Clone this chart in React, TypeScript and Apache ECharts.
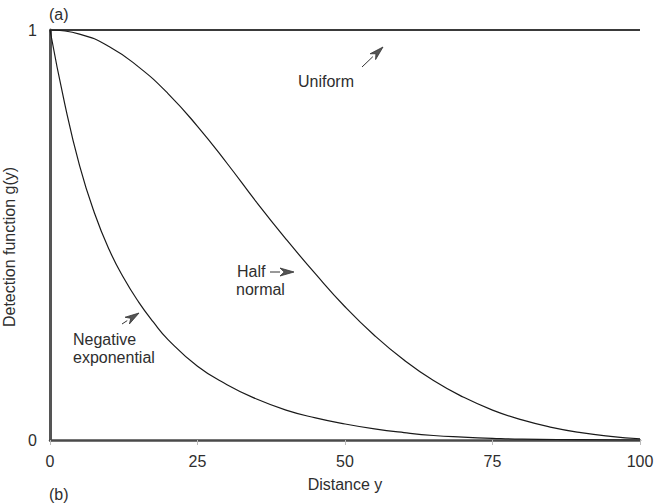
import React, { useEffect, useRef } from "react";
import * as echarts from "echarts";

// Distances (x) and detection-function values
const halfNormalX = [0, 5, 10, 15, 20, 25, 30, 35, 40, 45, 50, 55, 60, 65, 70, 75, 80, 85, 90, 95, 100];
const halfNormalY = [1.0, 0.99, 0.96, 0.91, 0.845, 0.765, 0.675, 0.58, 0.49, 0.405, 0.325, 0.255, 0.195, 0.145, 0.105, 0.073, 0.049, 0.031, 0.018, 0.009, 0.003];

const negExpX = [0, 2.5, 5, 7.5, 10, 12.5, 15, 17.5, 20, 25, 30, 35, 40, 45, 50, 55, 60, 65, 70, 75, 80, 90, 100];
const negExpY = [1.0, 0.82, 0.67, 0.555, 0.465, 0.395, 0.337, 0.288, 0.245, 0.18, 0.135, 0.1, 0.073, 0.054, 0.039, 0.027, 0.018, 0.011, 0.007, 0.004, 0.002, 0.001, 0.0];

const uniformX = [0, 100];
const uniformY = [1, 1];

const xTicks = [0, 25, 50, 75, 100];
const yTicks = [0, 1];

const FONT = "'Liberation Sans', Arial, Helvetica, sans-serif";
const TEXT = "#2e2e2e";

function pairs(xs: number[], ys: number[]) {
  return xs.map((x, i) => [x, ys[i]]);
}

function arrow(x1: number, y1: number, x2: number, y2: number) {
  const dx = x2 - x1;
  const dy = y2 - y1;
  const len = Math.sqrt(dx * dx + dy * dy);
  const ux = dx / len;
  const uy = dy / len;
  const hl = 14;
  const hw = 4;
  const bx = x2 - ux * hl;
  const by = y2 - uy * hl;
  const nx = -uy;
  const ny = ux;
  return [
    {
      type: "line",
      shape: { x1, y1, x2: bx, y2: by },
      style: { stroke: "#333", lineWidth: 1 },
    },
    {
      type: "polygon",
      shape: {
        points: [
          [x2, y2],
          [bx + nx * hw, by + ny * hw],
          [x2 - ux * hl * 0.7, y2 - uy * hl * 0.7],
          [bx - nx * hw, by - ny * hw],
        ],
      },
      style: { fill: "#555", stroke: "#333", lineWidth: 0.8 },
    },
  ];
}

export default function App() {
  const ref = useRef<HTMLDivElement>(null);

  useEffect(() => {
    if (!ref.current) return;
    const chart = echarts.init(ref.current, null, { renderer: "svg" });
    const text = (t: string, x: number, y: number, extra: any = {}) => ({
      type: "text",
      x,
      y,
      style: {
        text: t,
        font: `16px ${FONT}`,
        fill: TEXT,
        textAlign: "left",
        textVerticalAlign: "middle",
        ...extra,
      },
    });
    chart.setOption({
      animation: false,
      backgroundColor: "#ffffff",
      grid: {
        left: 50,
        right: 20,
        top: 30,
        bottom: 64,
        containLabel: false,
        outerBoundsMode: "none",
      },
      xAxis: {
        type: "value",
        min: 0,
        max: 100,
        interval: 25,
        name: "Distance y",
        nameLocation: "middle",
        nameGap: 36,
        nameTextStyle: { fontFamily: FONT, fontSize: 16, color: TEXT },
        axisLine: { show: true, lineStyle: { color: "#4a4a4a", width: 2.5 } },
        axisTick: { show: true, length: 5, lineStyle: { color: "#bbb", width: 1 } },
        axisLabel: {
          fontFamily: FONT,
          fontSize: 16,
          color: TEXT,
          margin: 13,
          formatter: (v: number) => (xTicks.includes(v) ? String(v) : ""),
        },
        splitLine: { show: false },
      },
      yAxis: {
        type: "value",
        min: 0,
        max: 1,
        interval: 1,
        name: "Detection function g(y)",
        nameLocation: "middle",
        nameGap: 32,
        nameRotate: 90,
        nameTextStyle: { fontFamily: FONT, fontSize: 16, color: TEXT, padding: [0, 24, 0, 0] },
        axisLine: { show: true, lineStyle: { color: "#555", width: 3 } },
        axisTick: { show: false },
        axisLabel: {
          fontFamily: FONT,
          fontSize: 16,
          color: TEXT,
          margin: 13,
          formatter: (v: number) => (yTicks.includes(v) ? String(v) : ""),
        },
        splitLine: { show: false },
      },
      series: [
        {
          type: "line",
          name: "Uniform",
          data: pairs(uniformX, uniformY),
          showSymbol: false,
          lineStyle: { color: "#3a3a3a", width: 2 },
          z: 3,
        },
        {
          type: "line",
          name: "Half normal",
          data: pairs(halfNormalX, halfNormalY),
          showSymbol: false,
          smooth: 0.5,
          lineStyle: { color: "#1a1a1a", width: 1.2 },
        },
        {
          type: "line",
          name: "Negative exponential",
          data: pairs(negExpX, negExpY),
          showSymbol: false,
          smooth: 0.5,
          lineStyle: { color: "#1a1a1a", width: 1.2 },
        },
      ],
      graphic: [
        text("(a)", 49, 14),
        text("(b)", 49, 494),
        text("Uniform", 298, 81),
        ...arrow(362, 67, 383, 47),
        text("Half", 237, 271),
        text("normal", 236, 289),
        ...arrow(270, 272, 294, 272),
        text("Negative", 73, 339),
        text("exponential", 73, 357),
        ...arrow(122, 324, 139, 313),
      ],
    });
    return () => chart.dispose();
  }, []);

  return (
    <div
      ref={ref}
      style={{ position: "absolute", left: 0, top: 0, width: 660, height: 504 }}
    />
  );
}
